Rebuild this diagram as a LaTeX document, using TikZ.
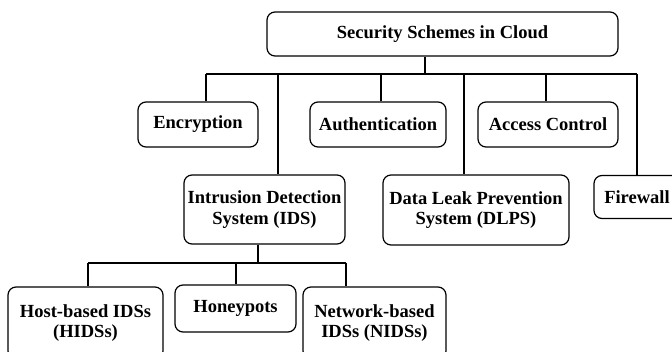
\documentclass[tikz,border=0pt]{standalone}
\usepackage{fontspec}
\setmainfont{Liberation Serif}
\usepackage{tikz}
\usetikzlibrary{positioning}
\tikzstyle{scheme} = [draw, line width=1.2pt, rounded corners=8pt, inner sep=0pt, align=center, font=\fontsize{18.5}{20.5}\selectfont\bfseries]
\tikzstyle{link} = [line width=1.2pt]

\begin{document}
\begin{tikzpicture}[x=1pt, y=1pt]
	\useasboundingbox (0,0) rectangle (672,351);
	% top level
	\node [scheme, minimum width=351pt, minimum height=44pt] (root) at (442.5,317) {Security Schemes in Cloud};
	% first row
	\node [scheme, minimum width=120pt, minimum height=45pt] (enc) at (198,226.5) {Encryption};
	\node [scheme, minimum width=136pt, minimum height=45pt] (auth) at (378,226.5) {Authentication};
	\node [scheme, minimum width=140pt, minimum height=45pt] (acc) at (548,226.5) {Access Control};
	% second row
	\node [scheme, minimum width=161pt, minimum height=69pt] (ids) at (264.5,141.5) {Intrusion Detection\\System (IDS)};
	\node [scheme, minimum width=186pt, minimum height=70pt] (dlps) at (476,141) {Data Leak Prevention\\System (DLPS)};
	\node [scheme, minimum width=86pt, minimum height=43pt] (fw) at (637,154) {Firewall};
	% kinds of IDS
	\node [scheme, minimum width=155pt, minimum height=72pt] (host) at (85.5,28) {Host-based IDSs\\(HIDSs)};
	\node [scheme, minimum width=121pt, minimum height=47pt] (honey) at (235.5,42.5) {Honeypots};
	\node [scheme, minimum width=143pt, minimum height=72pt] (nids) at (374.5,28) {Network-based\\IDSs (NIDSs)};
	% connectors
	\coordinate (top) at (425,277);
	\coordinate (busL) at (206,277);
	\coordinate (busR) at (637,277);
	\draw [link] (busL) -- (busR);
	\draw [link] (top |- root.south) -- (top);
	\foreach \n/\x in {enc/206, ids/278, auth/381, dlps/464, acc/546, fw/637} {
		\coordinate (b-\n) at (\x,277);
		\draw [link] (b-\n) -- (b-\n |- \n.north);
	}
	\coordinate (sub) at (258,88);
	\coordinate (subL) at (88,88);
	\coordinate (subR) at (346,88);
	\draw [link] (subL) -- (subR);
	\draw [link] (sub |- ids.south) -- (sub);
	\foreach \n/\x in {host/88, honey/236, nids/346} {
		\coordinate (s-\n) at (\x,88);
		\draw [link] (s-\n) -- (s-\n |- \n.north);
	}
\end{tikzpicture}
\end{document}
